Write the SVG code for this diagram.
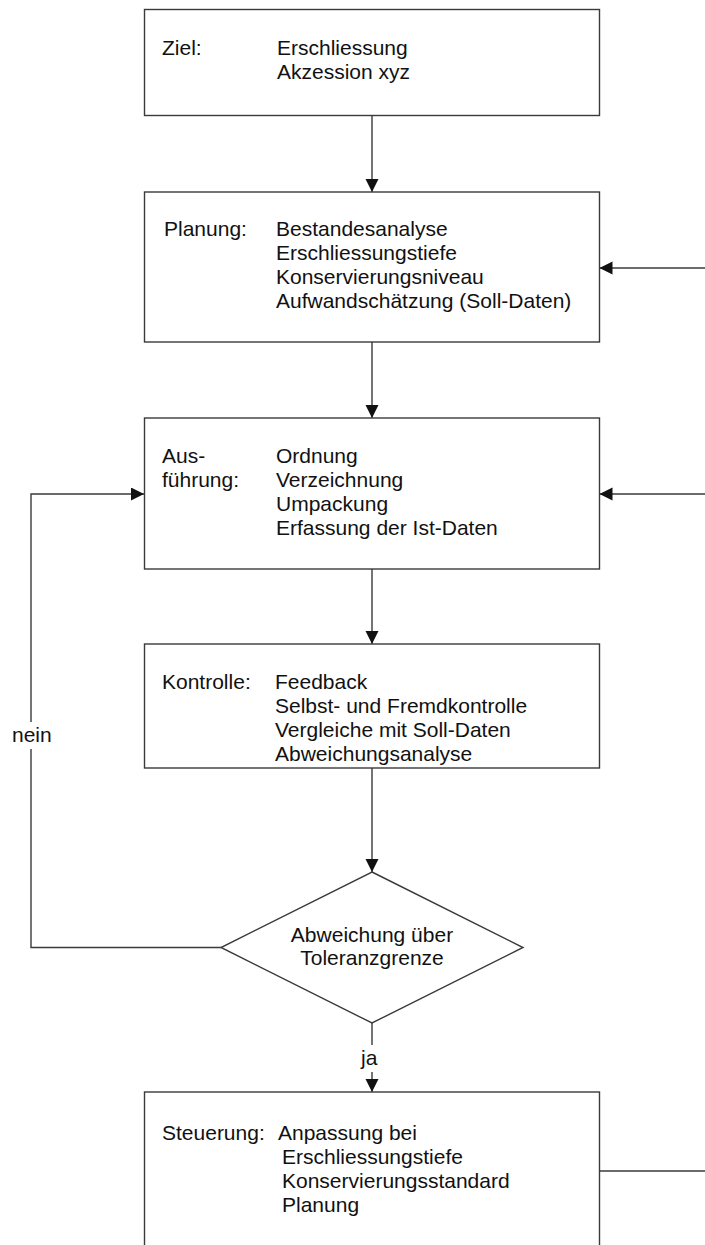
<svg xmlns="http://www.w3.org/2000/svg" width="705" height="1245" viewBox="0 0 705 1245">
<style>
.box{fill:#fff;stroke:#3a3a3a;stroke-width:1.4}
.ln{fill:none;stroke:#3a3a3a;stroke-width:1.4}
text{font-family:"Liberation Sans",Arial,sans-serif;font-size:21px;fill:#111}
.c{text-anchor:middle}
</style>
<defs>
<marker id="ah" markerUnits="userSpaceOnUse" markerWidth="14" markerHeight="14" refX="13" refY="6.5" orient="auto">
<path d="M0,0 L13,6.5 L0,13 z" fill="#111"/>
</marker>
</defs>
<g id="connectors">
<path class="ln" d="M372,116 V192" marker-end="url(#ah)"/>
<path class="ln" d="M372,342 V418" marker-end="url(#ah)"/>
<path class="ln" d="M372,569 V644" marker-end="url(#ah)"/>
<path class="ln" d="M372,768 V872" marker-end="url(#ah)"/>
<path class="ln" d="M372,1023 V1045"/>
<path class="ln" d="M372,1072 V1092" marker-end="url(#ah)"/>
<path class="ln" d="M221,947.5 H31 V749"/>
<path class="ln" d="M31,722 V494 H144" marker-end="url(#ah)"/>
<path class="ln" d="M705,268 H599.5" marker-end="url(#ah)"/>
<path class="ln" d="M705,494 H599.5" marker-end="url(#ah)"/>
<path class="ln" d="M599.5,1171 H705"/>
<text x="12" y="742">nein</text>
<text x="361" y="1065">ja</text>
</g>
<g id="ziel">
<rect class="box" x="144.5" y="9.5" width="455" height="106"/>
<text x="162" y="55">Ziel:</text>
<text x="277" y="55">Erschliessung</text>
<text x="277" y="79">Akzession xyz</text>
</g>
<g id="planung">
<rect class="box" x="144.5" y="192" width="455" height="150"/>
<text x="164" y="236">Planung:</text>
<text x="276" y="236">Bestandesanalyse</text>
<text x="276" y="260">Erschliessungstiefe</text>
<text x="276" y="284">Konservierungsniveau</text>
<text x="276" y="308">Aufwandschätzung (Soll-Daten)</text>
</g>
<g id="ausfuehrung">
<rect class="box" x="144.5" y="418" width="455" height="151"/>
<text x="162" y="463">Aus-</text>
<text x="162" y="487">führung:</text>
<text x="276" y="463">Ordnung</text>
<text x="276" y="487">Verzeichnung</text>
<text x="276" y="511">Umpackung</text>
<text x="276" y="535">Erfassung der Ist-Daten</text>
</g>
<g id="kontrolle">
<rect class="box" x="144.5" y="644" width="455" height="124"/>
<text x="162" y="689">Kontrolle:</text>
<text x="275" y="689">Feedback</text>
<text x="275" y="713">Selbst- und Fremdkontrolle</text>
<text x="275" y="737">Vergleiche mit Soll-Daten</text>
<text x="275" y="761">Abweichungsanalyse</text>
</g>
<g id="entscheidung">
<polygon class="box" points="372,872 523,947.5 372,1023 221,947.5"/>
<text class="c" x="372" y="942">Abweichung über</text>
<text class="c" x="372" y="965">Toleranzgrenze</text>
</g>
<g id="steuerung">
<rect class="box" x="144.5" y="1092" width="455" height="156"/>
<text x="162" y="1140">Steuerung:</text>
<text x="278" y="1140">Anpassung bei</text>
<text x="282" y="1164">Erschliessungstiefe</text>
<text x="282" y="1188">Konservierungsstandard</text>
<text x="282" y="1212">Planung</text>
</g>
</svg>
